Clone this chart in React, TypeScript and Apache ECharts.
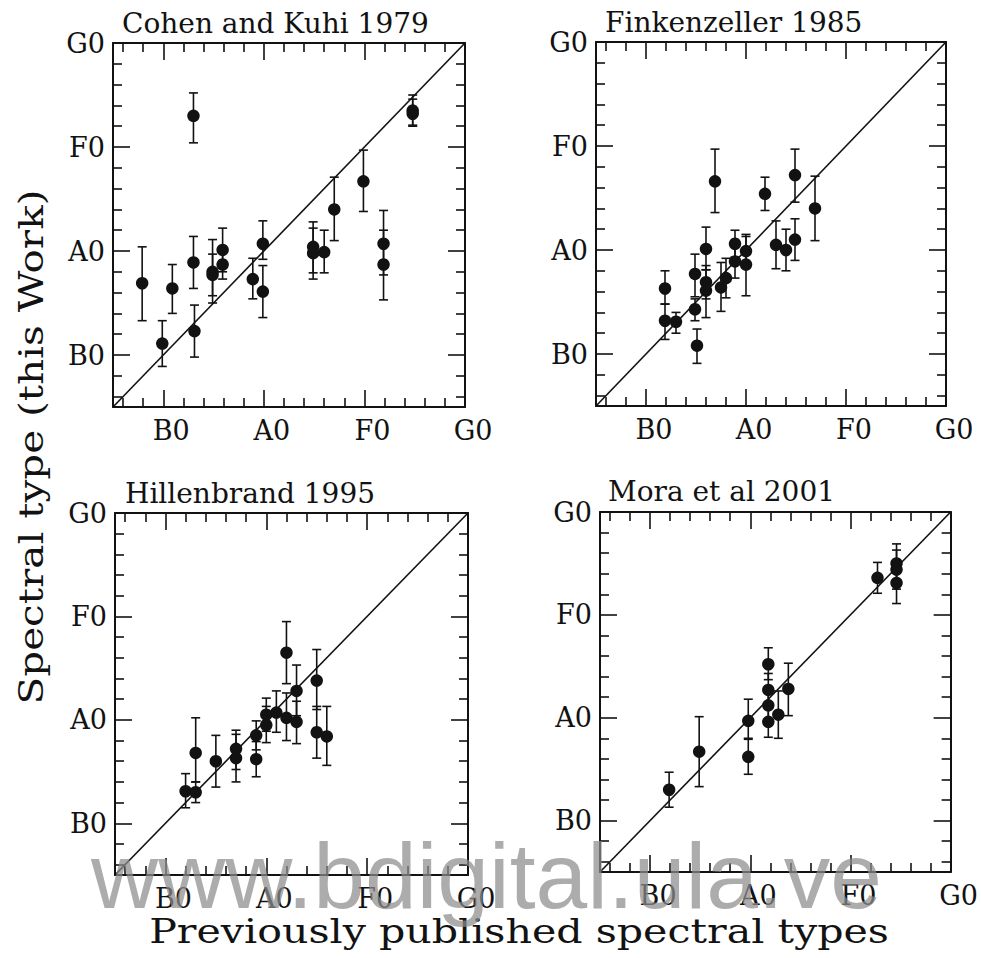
import React, { useEffect, useRef } from "react";
import * as echarts from "echarts";

// Spectral classes on a numeric scale: B0 = 10, A0 = 20, F0 = 30, G0 = 40
const axisMin = 5;
const axisMax = 40;
const majorTicks = [10, 20, 30, 40];
const minorTicks = [6, 8, 12, 14, 16, 18, 22, 24, 26, 28, 32, 34, 36, 38];
const classLabels: Record<number, string> = { 10: "B0", 20: "A0", 30: "F0", 40: "G0" };

const panelTitles = ["Cohen and Kuhi 1979", "Finkenzeller 1985", "Hillenbrand 1995", "Mora et al 2001"];
const xTitle = "Previously published spectral types";
const yTitle = "Spectral type (this Work)";
const watermark = "www.bdigital.ula.ve";

// Cohen and Kuhi 1979
const cohenX = [7.9, 9.9, 10.9, 13.0, 13.0, 13.1, 14.9, 14.9, 15.9, 15.9, 18.9, 19.9, 19.9, 24.9, 24.9, 26.0, 27.0, 29.9, 31.9, 31.9, 34.8, 34.8];
const cohenY = [16.9, 11.1, 16.4, 33.0, 18.9, 12.3, 18.0, 17.7, 20.1, 18.7, 17.3, 20.7, 16.1, 20.4, 19.8, 19.9, 24.0, 26.7, 20.7, 18.7, 33.5, 33.2];
const cohenLo = [13.3, 8.9, 14.0, 30.4, 16.4, 9.8, 15.0, 15.7, 18.0, 17.3, 15.4, 19.2, 13.6, 17.9, 17.3, 17.9, 21.0, 23.8, 17.7, 15.3, 32.1, 32.0];
const cohenHi = [20.4, 13.3, 18.7, 35.2, 21.4, 14.8, 21.1, 19.7, 22.2, 20.1, 19.3, 22.9, 18.6, 22.8, 22.2, 22.0, 27.1, 29.7, 23.9, 22.0, 35.0, 34.6];

// Finkenzeller 1985
const finkX = [11.9, 11.9, 13.0, 14.9, 14.9, 15.1, 16.0, 16.0, 16.0, 16.9, 17.5, 18.0, 18.9, 18.9, 20.0, 20.0, 21.9, 23.0, 24.0, 24.9, 24.9, 26.9];
const finkY = [16.3, 13.2, 13.1, 17.7, 14.3, 10.8, 20.1, 16.9, 16.1, 26.6, 16.4, 17.3, 20.6, 18.9, 19.9, 18.6, 25.4, 20.5, 20.0, 27.2, 21.0, 24.0];
const finkLo = [14.8, 11.4, 12.0, 15.5, 13.2, 9.1, 18.1, 15.3, 13.5, 23.6, 14.1, 15.4, 19.3, 17.3, 18.3, 15.6, 23.8, 18.2, 18.0, 24.6, 19.0, 20.9];
const finkHi = [18.0, 14.8, 14.0, 19.6, 15.3, 12.4, 22.2, 18.5, 18.1, 29.7, 18.8, 19.2, 21.9, 20.4, 21.5, 21.3, 27.0, 22.8, 22.0, 29.7, 23.0, 27.1];

// Hillenbrand 1995
const hillX = [12.0, 13.0, 13.0, 15.0, 17.0, 17.0, 19.0, 19.0, 20.0, 20.0, 21.0, 22.0, 22.0, 23.0, 23.0, 25.0, 25.0, 26.0];
const hillY = [13.1, 13.0, 16.8, 16.0, 17.2, 16.3, 18.5, 16.2, 20.5, 19.5, 20.7, 26.5, 20.2, 22.8, 19.8, 23.8, 18.8, 18.4];
const hillLo = [11.5, 12.0, 14.0, 13.5, 15.2, 14.0, 17.1, 14.5, 18.9, 17.8, 18.8, 23.5, 18.0, 20.4, 17.7, 21.0, 16.3, 15.6];
const hillHi = [14.8, 14.0, 20.2, 18.5, 19.0, 18.6, 19.9, 17.9, 22.1, 21.3, 22.8, 29.5, 22.6, 25.3, 21.8, 26.8, 21.3, 21.3];

// Mora et al 2001
const moraX = [11.9, 14.9, 19.8, 19.8, 21.8, 21.8, 21.8, 21.8, 22.8, 23.8, 32.7, 34.6, 34.6, 34.6];
const moraY = [13.0, 16.7, 19.7, 16.2, 25.2, 22.7, 21.2, 19.6, 20.3, 22.8, 33.6, 35.0, 34.4, 33.1];
const moraLo = [11.3, 13.3, 17.9, 14.5, 23.7, 21.2, 19.6, 18.1, 18.0, 20.2, 32.1, 33.2, 32.5, 31.1];
const moraHi = [14.7, 20.1, 21.8, 18.0, 26.8, 24.3, 22.8, 21.2, 22.6, 25.3, 35.1, 36.9, 36.3, 35.0];

const panels = [
  { x: cohenX, y: cohenY, lo: cohenLo, hi: cohenHi },
  { x: finkX, y: finkY, lo: finkLo, hi: finkHi },
  { x: hillX, y: hillY, lo: hillLo, hi: hillHi },
  { x: moraX, y: moraY, lo: moraLo, hi: moraHi },
];

// plot boxes in page pixels
const boxes = [
  { left: 113, top: 43, width: 352, height: 364 },
  { left: 596, top: 42, width: 350, height: 364 },
  { left: 115, top: 513, width: 353, height: 362 },
  { left: 600, top: 512, width: 352, height: 360 },
];
const titlePos = [
  { x: 122, y: 23 },
  { x: 605, y: 22 },
  { x: 125, y: 493 },
  { x: 608, y: 491 },
];

const INK = "#121212";
const SERIF = '"DejaVu Serif", serif';
const lineStyle = { color: INK, width: 2 };
const tickStyle = { color: INK, width: 1.6 };

function makeAxes(gi: number, dim: "x" | "y") {
  const near = dim === "x" ? "bottom" : "left";
  const far = dim === "x" ? "top" : "right";
  const base = {
    gridIndex: gi,
    type: "value",
    min: axisMin,
    max: axisMax,
    splitLine: { show: false },
  };
  const label = {
    show: true,
    customValues: majorTicks,
    formatter: (v: number) => classLabels[Math.round(v)] ?? "",
    color: INK,
    fontFamily: SERIF,
    fontSize: 27,
    margin: dim === "x" ? 10 : 8,
    ...(dim === "x" ? { align: "center", padding: [0, 0, 0, 16] } : {}),
  };
  return [
    {
      ...base,
      position: near,
      axisLine: { show: true, onZero: false, lineStyle },
      axisTick: { show: true, inside: true, length: 17, customValues: majorTicks, lineStyle: tickStyle },
      axisLabel: label,
    },
    {
      ...base,
      position: near,
      axisLine: { show: false, onZero: false },
      axisTick: { show: true, inside: true, length: 9, customValues: minorTicks, lineStyle: tickStyle },
      axisLabel: { show: false },
    },
    {
      ...base,
      position: far,
      axisLine: { show: true, onZero: false, lineStyle },
      axisTick: { show: true, inside: true, length: 17, customValues: majorTicks, lineStyle: tickStyle },
      axisLabel: { show: false },
    },
    {
      ...base,
      position: far,
      axisLine: { show: false, onZero: false },
      axisTick: { show: true, inside: true, length: 9, customValues: minorTicks, lineStyle: tickStyle },
      axisLabel: { show: false },
    },
  ];
}

function errorBarItem(params: any, api: any) {
  const x = api.value(0);
  const lo = api.coord([x, api.value(1)]);
  const hi = api.coord([x, api.value(2)]);
  const cap = 4.5;
  const style = { stroke: INK, lineWidth: 1.6 };
  return {
    type: "group",
    children: [
      { type: "line", shape: { x1: lo[0], y1: lo[1], x2: hi[0], y2: hi[1] }, style },
      { type: "line", shape: { x1: lo[0] - cap, y1: lo[1], x2: lo[0] + cap, y2: lo[1] }, style },
      { type: "line", shape: { x1: hi[0] - cap, y1: hi[1], x2: hi[0] + cap, y2: hi[1] }, style },
    ],
  };
}

export default function App() {
  const ref = useRef<HTMLDivElement>(null);

  useEffect(() => {
    if (!ref.current) return;
    const chart = echarts.init(ref.current, undefined, { renderer: "svg" });

    const grid = boxes.map((b) => ({ ...b, containLabel: false }));
    const xAxis: any[] = [];
    const yAxis: any[] = [];
    const series: any[] = [];

    panels.forEach((p, gi) => {
      xAxis.push(...makeAxes(gi, "x"));
      yAxis.push(...makeAxes(gi, "y"));
      const axisRef = { xAxisIndex: gi * 4, yAxisIndex: gi * 4 };
      series.push({
        type: "line",
        ...axisRef,
        data: [
          [axisMin, axisMin],
          [axisMax, axisMax],
        ],
        symbol: "none",
        silent: true,
        lineStyle: { color: INK, width: 1.6 },
        z: 1,
      });
      series.push({
        type: "custom",
        ...axisRef,
        data: p.x.map((x, i) => [x, p.lo[i], p.hi[i]]),
        renderItem: errorBarItem,
        silent: true,
        z: 2,
      });
      series.push({
        type: "scatter",
        ...axisRef,
        data: p.x.map((x, i) => [x, p.y[i]]),
        symbol: "circle",
        symbolSize: 12.5,
        itemStyle: { color: INK, opacity: 1 },
        silent: true,
        z: 3,
      });
    });

    const graphic: any[] = [
      ...panelTitles.map((t, i) => ({
        type: "text",
        x: titlePos[i].x,
        y: titlePos[i].y,
        style: { text: t, font: `28px ${SERIF}`, fill: INK, align: "left", verticalAlign: "middle" },
      })),
      {
        type: "text",
        x: 519,
        y: 931,
        scaleX: 1.21,
        style: { text: xTitle, font: `34px ${SERIF}`, fill: INK, align: "center", verticalAlign: "middle" },
      },
      {
        type: "text",
        x: 31,
        y: 447,
        rotation: Math.PI / 2,
        scaleX: 1.19,
        style: { text: yTitle, font: `34px ${SERIF}`, fill: INK, align: "center", verticalAlign: "middle" },
      },
      {
        type: "text",
        x: 91,
        y: 876,
        z: 100,
        style: {
          text: watermark,
          font: '93px "Liberation Sans", Arial, sans-serif',
          fill: "#8c8c8c",
          opacity: 0.72,
          align: "left",
          verticalAlign: "middle",
        },
      },
    ];

    chart.setOption({
      animation: false,
      backgroundColor: "#ffffff",
      grid,
      xAxis,
      yAxis,
      series,
      graphic,
    });

    return () => chart.dispose();
  }, []);

  return (
    <div
      ref={ref}
      style={{ position: "absolute", left: 0, top: 0, width: 981, height: 958, background: "#fff" }}
    />
  );
}
